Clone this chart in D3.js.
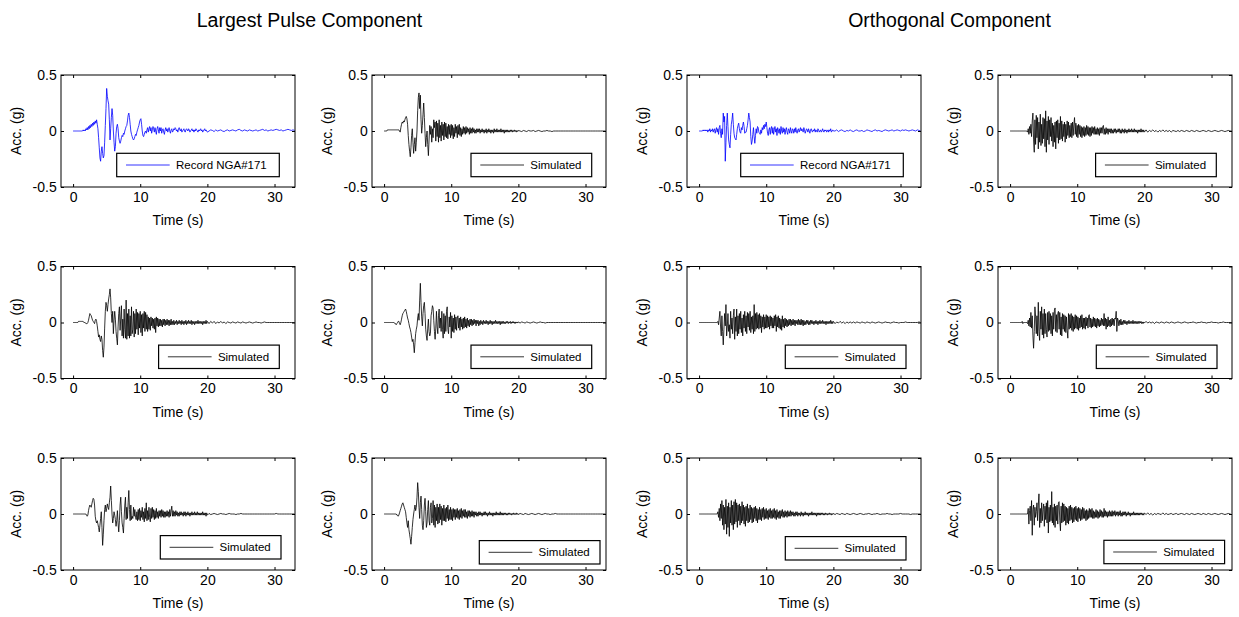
<!DOCTYPE html>
<html>
<head>
<meta charset="utf-8">
<script src="https://cdn.jsdelivr.net/npm/d3@7"></script>
<style>
  body { margin: 0; background: #fff; }
  svg { display: block; font-family: "Liberation Sans", Arial, Helvetica, sans-serif; }
</style>
</head>
<body>
<svg id="chart" width="1239" height="617"></svg>
<script>
// Ground-acceleration histories, in units of 0.01 g.
// Samples 0..200 are spaced 0.1 s (0-20 s); the rest are spaced 0.25 s (20.25-33 s).

// Largest pulse component
const pulseRecord = [
  0,0,0,0,0,0,0,0,0,0,  0,0,0,0,0,1,0,1,0,2,  1,3,1,4,2,5,3,6,4,7,
  5,8,6,9,7,10,6,2,-6,-15,  -24,-27,-18,-14,-20,-24,-22,-10,5,20,
  38,31,27,24,10,-8,2,12,20,14,  0,-10,-18,-14,-2,4,6,2,-6,-9,
  -11,-9,-6,-4,-5,-2,-3,0,2,4,  5,9,14,16,12,6,0,-3,-5,-7,
  -8,-7,-5,-3,-4,-1,1,3,5,8,  10,11,6,0,-4,-5,-3,-1,0,-2,
  1,3,-1,2,4,0,3,-2,1,4,  2,-1,3,0,-3,2,4,1,-2,3,
  0,3,-2,1,2,-1,-3,1,3,0,  2,-1,1,3,0,-2,1,2,-1,0,  2,
  1,3,2,0,1,-1,2,3,1,0,  2,-1,0,1,2,0,-1,1,2,1,  0,2,1,-1,0,1,2,0,1,-1,
  1,0,2,1,0,-1,1,0,1,2,  0,1,-1,0,1,2,0,1,0,-1,
  0,1,0.5,-0.5,1,0,0.5,1,0,-0.5,0.5,1,  0,0.5,1,0.5,0,1,1.5,0.5,0,1,0.5,0,
  1,0.5,0,0.5,1,0,0.5,1,1.5,0.5,1,0,  0.5,1,0.5,1,1.5,1,0.5,1,0,0.5,1,1.5,  1,0.5,1,0.5
];
const pulseSim1 = [
  0,0,0,0,0,1,1,1,1,1,  1,1,1,1,1,1,1,1,1,1,  1,1,1,0,-1,3,6,8,7,9,
  8,10,12,13,11,6,-4,-12,-18,-23,  -15,-4,2,-10,-20,-12,-6,-18,-10,0,
  18,30,34,20,32,10,-2,5,15,25,  12,-2,-14,-6,0,-12,-22,-8,5,-3,
  4,-10,2,-6,10,3,8,-9,9,-5,  7,-10,10,-6,5,-9,8,-4,6,-8,
  8,-5,7,-6,4,-7,6,-3,5,-6,  6,-4,5,-7,3,-5,6,-2,4,-6,
  5,-3,6,-4,3,-5,2,-3,4,-2,  3,-3,4,-2,3,-1,2,-3,3,-2,
  2,-2,3,-1,2,-2,1,-2,2,-1,  2,-1,2,-2,1,-1,2,-1,1,-2,  1,
  -1,2,-2,1,-1,2,-1,1,-2,1,  -1,1,-2,2,-1,1,-1,2,-1,1,  -1,1,-1,2,-1,1,-1,1,-2,1,
  -1,1,-1,1,-1,0.5,-1,1,-0.5,1,  -1,0.5,-0.5,1,-0.5,0.5,-1,0.5,-0.5,0.5,
  0,-0.5,0.5,0,-0.5,0.5,0,0,0.5,-0.5,0,0.5,  0,-0.5,0,0,0.5,0,0,-0.5,0,0,0,0,
  0,0,0,0,0,0,0,0,0,0,0,0,  0,0,0,0,0,0,0,0,0,0,0,0,  0,0,0,0
];
const pulseSim2 = [
  0,0,0,0,0,0,0,0,1,1,  1,1,1,1,1,1,0,0,0,-1,  -1,-1,0,2,5,8,7,6,4,2,
  1,0,-1,2,3,1,-3,-8,-13,-11,  -15,-17,-12,-15,-25,-31,-22,-5,10,18,
  15,10,16,21,25,30,22,8,0,10,  -10,2,10,3,-8,-14,-20,-4,8,14,
  -7,4,15,-12,3,-14,12,-6,-14,20,  -15,8,-12,12,-14,6,-12,14,-10,-6,
  10,-13,8,-10,12,-6,9,-11,8,-5,  10,-9,7,-12,8,-5,10,-8,9,-6,
  7,-8,5,-6,4,-7,5,-3,4,-5,  3,-6,4,-9,5,-3,4,-4,3,-3,
  3,-3,2,-4,3,-2,3,-3,2,-2,  3,-2,2,-3,2,-2,3,-2,1,-2,  2,
  -2,1,-1,2,-2,1,-1,2,-1,1,  -2,2,-1,1,-2,1,-1,2,-2,1,  -1,2,-1,1,-1,2,-2,1,-1,1,
  -2,1,-1,1,-1,2,-1,1,-1,1,  -1,1,-2,1,-1,1,-1,2,-1,1,
  -1,1,-0.5,1,-1,0.5,-0.5,1,-0.5,0.5,-1,0.5,  0,-0.5,0.5,0,-0.5,0.5,0,-0.5,0.5,0,-0.5,0,
  0.5,0,-0.5,0,0.5,0,0,-0.5,0,0.5,0,0,  0,0,0,0,0,0,0,0,0,0,0,0,  0,0,0,0
];
const pulseSim3 = [
  0,0,0,0,0,0,0,0,0,0,  0,0,0,0,0,0,-1,-1,-2,-1,  0,1,1,-1,-2,0,3,6,8,9,
  10,11,12,10,7,4,2,-1,-4,-6,  -9,-13,-17,-15,-20,-27,-18,-10,-6,-3,
  4,8,2,20,35,18,5,-3,8,15,  18,8,-6,-12,-16,-5,3,-8,-12,-10,
  6,10,15,13,2,-8,-15,-5,10,-4,  -10,6,12,-5,4,-8,10,-6,-14,8,
  -10,6,-8,10,14,-6,-10,5,-4,9,  -14,6,-8,4,-9,7,-6,5,-7,4,
  6,-5,4,-7,5,-4,3,-6,4,-5,  5,-4,3,-5,4,-3,2,-4,3,-2,
  3,-3,2,-2,3,-1,2,-3,2,-1,  2,-3,1,-2,2,-1,1,-2,2,-1,  1,
  -1,2,-1,1,-2,1,-1,2,-1,1,  -2,1,-1,1,-1,2,-1,1,-1,1,  -1,1,-2,1,-1,1,-1,1,-1,0.5,
  -1,1,-0.5,1,-1,0.5,-0.5,1,-1,0.5,  -0.5,1,-0.5,0.5,-1,0.5,-0.5,0.5,-0.5,0.5,
  -0.5,0.5,0,-0.5,0.5,0,-0.5,0,0.5,0,-0.5,0,  0.5,0,0,-0.5,0,0,0,0,0,0,0,0,
  0,0,0,0,0,0,0,0,0,0,0,0,  0,0,0,0,0,0,0,0,0,0,0,0,  0,0,0,0
];
const pulseSim4 = [
  0,0,0,0,0,0,0,0,0,0,  0,0,0,0,0,0,0,0,0,0,  -1,-2,-1,3,6,8,7,6,9,12,
  14,13,8,-2,-6,-8,-6,-9,-12,-16,  -10,-4,2,-12,-28,-18,-6,4,8,2,
  5,9,6,4,10,15,25,12,0,-8,  -4,2,-1,-5,-11,-6,3,-8,-16,-6,
  8,15,2,-8,-12,-17,-4,8,15,-5,  6,-4,10,21,4,-6,8,-5,-2,-4,
  6,-2,4,-3,-5,2,-6,4,-5,5,  -6,3,-3,6,-5,2,-7,5,-4,10,
  -6,3,-5,6,-3,-7,5,-4,6,-3,  4,-5,3,-4,5,-3,2,-4,3,-2,
  3,-3,4,-2,3,-3,2,-3,2,-2,  3,-2,2,-3,4,-2,3,7,-2,3,  -2,
  2,-2,3,-1,2,-2,1,-2,2,-1,  2,-1,1,-2,2,-1,2,-2,1,-1,  2,-1,1,-2,1,-1,2,-1,1,-1,
  2,-1,1,-1,2,-1,1,-1,1,-1,  1,-1,2,-1,1,-1,1,-2,1,-1,
  0.5,-0.5,0,0.5,0,-0.5,0,0.5,0,0,-0.5,0,  0.5,0,0,0,-0.5,0,0,0.5,0,0,0,0,
  0,0,0,0,0,0,0,0,0,0,0,0,  0,0,0,0,0.5,0,0,0,0,0,0,0,  0,0,0,0
];
const pulseSim5 = [
  0,0,0,0,0,0,0,0,0,0,  0,0,0,0,0,0,0,0,0,-1,  -1,-2,-1,1,3,5,7,9,10,8,
  6,4,2,-3,-8,-12,-6,-14,-18,-22,  -27,-20,-12,-5,0,4,8,3,6,15,
  28,20,6,-4,10,16,4,-10,-14,-6,  8,14,2,-12,-8,4,12,-6,-10,6,
  10,-8,-4,12,-10,8,-12,6,-6,9,  -9,6,-8,9,-5,7,-10,5,-6,8,
  -6,5,-7,6,-4,8,-6,4,-5,6,  -5,4,-6,5,-3,4,-5,4,-3,5,
  -4,3,-5,4,-3,5,-4,3,-2,4,  -3,4,-3,2,-4,3,-2,3,-3,2,
  -2,3,-2,2,-3,2,-1,2,-2,1,  -2,2,-1,2,-1,1,-2,1,-1,2,  -1,
  2,-1,1,-2,1,-1,2,-1,1,-1,  1,-2,1,-1,1,-1,2,-1,1,-1,  1,-1,2,-1,1,-1,1,-1,1,-0.5,
  1,-1,0.5,-1,1,-0.5,1,-0.5,0.5,-1,  0.5,-0.5,1,-0.5,0.5,-0.5,1,-0.5,0.5,-0.5,
  0.5,0,-0.5,0.5,0,-0.5,0,0.5,0,-0.5,0,0.5,  0,-0.5,0,0.5,0,0,-0.5,0,0,0.5,0,0,
  0,0,0,0,0,0,0,0,0,0,0,0,  0,0,0,0,0,0,0,0,0,0,0,0,  0,0,0,0
];

// Orthogonal component
const orthRecord = [
  0,0,0,0,0,0,1,0,1,0,  1,0,1,-1,1,0,2,-1,1,0,  2,-1,1,2,-2,1,3,-1,2,-3,
  3,5,-2,-6,2,-3,16,8,13,-27,  -10,5,16,4,-8,-12,-15,-3,6,10,
  16,6,-2,-6,-7,-8,-3,2,5,7,  2,-1,-2,3,1,5,8,4,-2,-1,
  -1,2,5,10,16,12,8,-5,-12,-9,  -3,3,-5,-11,-4,2,-2,4,3,-1,
  -2,-3,1,-2,3,1,5,2,6,4,  8,3,-2,-4,1,3,-3,2,4,-2,
  3,-3,1,4,-1,2,-4,3,1,-2,  2,-3,4,0,-2,3,-1,2,-3,1,
  3,-1,-3,2,1,-2,3,0,-2,2,  1,-2,2,-1,3,0,-2,1,2,-1,  1,
  3,0,2,1,-1,3,1,-2,0,2,  1,-1,2,0,-2,1,2,0,-1,1,  0,2,-1,1,0,-1,2,1,-1,0,
  1,-1,0,2,0,-1,1,0,1,-1,  0,1,-1,1,0,2,-1,0,1,0,
  0,1,-0.5,0.5,1,0,-0.5,0.5,0,1,0,-0.5,  0.5,1,0,0,0.5,-0.5,0,1,0.5,0,-0.5,0.5,
  1,0,0.5,0,-0.5,0.5,1,0.5,0,0.5,1,0,  0.5,1,0.5,0,1,0.5,1,0.5,0,0.5,1,0.5,  0,1,0.5,0
];
const orthSim1 = [
  0,0,0,0,0,0,0,0,0,0,  0,0,0,0,0,0,0,0,0,0,  0,0,0,0,0,0,-1,2,-3,4,
  -2,6,-5,9,16,-8,-19,10,-12,14,  -6,12,-16,8,-10,15,-13,6,-11,12,
  -7,11,-14,18,-19,9,-8,13,-12,10,  -5,12,-9,7,-14,5,-10,8,-16,9,
  -6,10,-11,7,-8,13,-7,9,-9,6,  -5,8,-10,6,-7,9,-4,8,-6,5,
  -5,7,-6,8,-4,6,12,-3,7,-5,  5,-6,6,-3,5,-5,4,-6,3,-4,
  4,-5,3,-4,5,-3,4,-4,3,-5,  3,-4,4,-2,3,-3,4,-3,2,-3,
  3,-3,2,-4,3,-2,3,-2,4,5,  -3,2,-3,3,-2,2,-3,2,-1,2,  -2,
  2,-2,1,-2,2,-1,2,-2,1,-1,  2,-1,2,-2,1,-2,2,-1,1,-2,  2,-1,1,-2,1,-1,2,-1,1,-1,
  2,-1,1,-1,2,-1,1,-1,1,-2,  1,-1,1,-1,2,-1,1,-1,1,-1,
  1,-1,0.5,-0.5,1,-0.5,0.5,-1,0.5,-0.5,1,-0.5,  0.5,-0.5,0.5,-1,0.5,0,-0.5,0.5,-0.5,0.5,0,-0.5,
  0.5,0,-0.5,0.5,0,-0.5,0.5,0,-0.5,0,0.5,0,  -0.5,0.5,0,-0.5,0,0.5,0,-0.5,0,0.5,0,-0.5,  0,0.5,0,0
];
const orthSim2 = [
  0,0,0,0,0,0,0,0,0,0,  0,0,0,0,0,0,0,0,0,0,  0,0,0,0,0,0,0,0,1,-2,
  4,10,-4,-12,6,-8,-20,-6,8,-3,  16,-12,-4,8,-8,-2,-14,10,-6,4,
  -10,6,12,-15,5,-8,12,-12,6,-10,  8,-6,10,-9,4,-12,7,-5,10,-8,
  6,-10,9,-4,8,-7,10,-9,5,-6,  6,-10,16,-8,8,-6,9,-5,7,-6,
  8,-5,6,-9,5,-4,7,-6,5,-5,  7,-5,6,-4,5,-6,6,-3,5,-5,
  4,-5,6,-3,7,-8,5,-4,6,-5,  4,-6,3,-7,6,-4,3,-5,4,-3,
  3,-4,2,-3,3,-2,3,-3,2,-2,  3,-2,2,-3,2,-1,2,-2,3,-2,  2,
  -2,3,-2,2,-3,2,-2,1,-2,2,  -1,2,-2,1,-2,2,-1,2,-1,1,  -2,1,-1,2,-1,1,-2,1,-1,2,
  -1,1,-1,2,-1,1,-1,1,-2,1,  -1,1,-1,1,-1,2,-1,1,-1,1,
  -1,0.5,-0.5,1,-0.5,0.5,-1,0.5,-0.5,0.5,-0.5,0.5,  -0.5,0.5,0,-0.5,0.5,0,-0.5,0.5,0,-0.5,0.5,0,
  -0.5,0,0.5,0,-0.5,0,0.5,0,0,-0.5,0,0.5,  0,0,-0.5,0,0,0,0.5,0,0,0,0,0,  0,0,0.5,0
];
const orthSim3 = [
  0,0,0,0,0,0,0,0,0,0,  0,0,0,0,0,0,0,0,1,-1,  0,0,0,0,0,0,-1,2,-3,4,
  -4,9,-5,6,-12,-23,-8,14,5,-10,  6,-12,18,-8,-16,10,-6,14,-11,8,
  -14,12,-10,8,-6,-13,9,-8,10,-7,  8,-10,6,-12,9,-6,11,13,-8,7,
  -9,8,10,-6,9,-11,5,-12,8,-6,  7,-8,6,-9,5,-7,-14,8,-6,7,
  -5,8,-7,6,-8,5,-6,7,-5,6,  -6,5,-7,4,-5,6,-4,7,-6,4,
  -5,4,-6,5,-3,4,-5,6,7,-4,  4,-5,3,-4,5,-3,4,-4,3,-5,
  4,-3,3,-4,2,-3,4,-2,3,-3,  8,-3,4,-6,3,-4,5,-3,2,-4,  3,
  -3,4,-2,3,-3,4,3,10,-8,4,  2,-3,2,-2,3,-2,1,-2,2,-1,  2,-1,1,-2,1,-1,2,-1,1,-1,
  1,-1,2,-1,1,-1,1,-1,1,-1,  1,-1,1,-0.5,1,-1,0.5,-1,0.5,-0.5,
  1,-0.5,0.5,-0.5,0.5,-1,0.5,0,-0.5,0.5,0,-0.5,  0.5,0,-0.5,0.5,0,-0.5,0,0.5,0,-0.5,0,0.5,
  0,-0.5,0,0,0.5,0,-0.5,0,0,0.5,0,0,  -0.5,0,0,0.5,0,0,0,-0.5,0,0,0.5,0,  0,0,0,0
];
const orthSim4 = [
  0,0,0,0,0,0,0,0,0,0,  0,0,0,0,0,0,0,0,0,0,  0,0,0,0,0,0,0,0,2,-3,
  5,-6,9,-4,12,-10,8,-14,6,-9,  13,-18,7,-12,10,-20,6,-8,12,-10,
  8,-14,11,-9,13,-7,10,-12,8,-6,  9,-10,7,-8,11,-6,8,-9,6,-11,
  7,-6,9,-8,5,-7,8,-5,6,-8,  5,-7,6,-4,7,-6,5,-8,4,-5,
  6,-5,4,-6,5,-3,6,-5,4,-4,  5,-4,3,-5,4,-3,5,-4,3,-4,
  4,-3,5,-4,3,-5,4,-3,2,-4,  3,-4,3,-2,4,-3,2,-3,3,-2,
  2,-3,3,-2,2,-2,3,-2,2,-1,  2,-2,1,-2,2,-1,2,-2,1,-1,  1,
  -2,2,-1,1,-2,1,-1,2,-1,1,  -1,1,-2,1,-1,1,-1,2,-1,1,  -1,1,-1,1,-2,1,-1,1,-1,1,
  -1,1,-0.5,1,-1,0.5,-1,1,-0.5,0.5,  -1,0.5,-0.5,1,-0.5,0.5,-1,0.5,-0.5,0.5,
  -0.5,0.5,0,-0.5,0.5,0,-0.5,0.5,0,-0.5,0,0.5,  0,-0.5,0,0.5,0,-0.5,0,0,0.5,0,-0.5,0,
  0,0.5,0,-0.5,0,0,0,0.5,0,0,-0.5,0,  0,0,0,0.5,0,0,0,0,0,-0.5,0,0,  0,0,0,0
];
const orthSim5 = [
  0,0,0,0,0,0,0,0,0,0,  0,0,0,0,0,0,0,0,0,0,  0,0,0,0,0,0,0,5,-9,3,
  7,-6,12,-19,4,8,-10,6,-3,2,  10,-6,8,18,-12,5,-8,10,-6,4,
  9,-11,7,-5,10,-8,12,-17,6,-7,  8,-6,20,-8,6,-10,9,-12,7,-6,
  8,-9,10,11,-6,-15,7,-8,10,-7,  9,-6,7,-10,6,-8,5,-9,7,-6,
  8,-5,6,-8,5,-7,6,-5,7,-6,  5,-7,6,-4,5,-6,4,-5,6,-4,
  5,-4,3,-6,4,-5,3,-4,5,-3,  4,-3,5,-4,3,-4,2,-3,4,-3,
  3,-4,2,-3,4,-2,3,-3,2,-3,  5,-2,3,-2,2,-3,2,-2,3,-2,  2,
  -2,3,-2,2,-1,3,-2,2,-1,2,  -2,2,-1,3,-2,1,-2,2,-1,2,  -1,2,-2,1,-1,2,-1,1,-2,1,
  -1,1,-1,2,-1,1,-1,1,-1,1,  -1,1,-1,1,-0.5,1,-1,0.5,-1,1,
  -0.5,1,-0.5,0.5,-1,0.5,-0.5,0.5,0,-0.5,1,-0.5,  0.5,-0.5,0,0.5,-0.5,0,0.5,-0.5,0,0.5,0,-0.5,
  0.5,0,-0.5,0.5,0,-0.5,0,0.5,0,-0.5,0.5,0,  -0.5,0.5,0,-0.5,0,0.5,0,-0.5,0,0.5,0,-0.5,  0,0.5,0,-0.5
];

const columnTitles = ["Largest Pulse Component", "Orthogonal Component"];
const xTickValues = [0, 10, 20, 30];
const yTickValues = [-0.5, 0, 0.5];
const xLabel = "Time (s)";
const yLabel = "Acc. (g)";
const recordName = "Record NGA#171";
const simulatedName = "Simulated";

// Grid of panels: [row][column]
const panelGrid = [
  [pulseRecord, pulseSim1, orthRecord, orthSim1],
  [pulseSim2,   pulseSim3, orthSim2,   orthSim3],
  [pulseSim4,   pulseSim5, orthSim4,   orthSim5]
];
const recordPanels = new Set([pulseRecord, orthRecord]);

// ---- layout ----
const colLeft = [61, 372, 687, 998];
const rowTop = [75, 266.5, 458];
const plotW = 234, plotH = 112;
// legend box offsets from the plot's right / bottom edges
const legendOffset = [
  [[15.7, 10.3], [14.3, 10.3], [17.7, 10.3], [15.7, 10.3]],
  [[15.7, 10.0], [14.3, 10.0], [15.0, 10.0], [15.0, 10.0]],
  [[14.0, 11.0], [6.0, 6.0],   [15.0, 10.0], [7.4, 6.3]]
];

const svg = d3.select("#chart");

function sampleTime(i) { return i <= 200 ? i * 0.1 : 20 + (i - 200) * 0.25; }

const x = d3.scaleLinear().domain([-1.8, 33.05]).range([0, plotW]);
const y = d3.scaleLinear().domain([-0.5, 0.5]).range([plotH, 0]);

const line = d3.line()
  .x((d, i) => x(sampleTime(i)))
  .y(d => y(d / 100));

svg.append("defs").append("clipPath").attr("id", "plotClip")
  .append("rect").attr("width", plotW).attr("height", plotH);

// column titles
const titleX = [309.5, 949.5];
columnTitles.forEach((t, k) => {
  svg.append("text").attr("x", titleX[k]).attr("y", 27)
    .attr("text-anchor", "middle").attr("font-size", 19.5).attr("fill", "#000").text(t);
});

panelGrid.forEach((row, r) => {
  row.forEach((series, c) => {
    const g = svg.append("g").attr("transform", `translate(${colLeft[c]},${rowTop[r]})`);
    const isRecord = recordPanels.has(series);
    const colour = isRecord ? "#0000ff" : "#000";

    g.append("path").datum(series)
      .attr("clip-path", "url(#plotClip)")
      .attr("fill", "none").attr("stroke", colour)
      .attr("stroke-width", 0.8).attr("stroke-linejoin", "round")
      .attr("d", line);

    // frame
    g.append("rect").attr("width", plotW).attr("height", plotH)
      .attr("fill", "none").attr("stroke", "#000").attr("stroke-width", 1);

    // axes (ticks pointing inward)
    const bottom = g.append("g").attr("transform", `translate(0,${plotH})`)
      .call(d3.axisBottom(x).tickValues(xTickValues).tickFormat(d => String(d))
        .tickSize(-3).tickSizeOuter(0).tickPadding(4.7));
    const top = g.append("g")
      .call(d3.axisTop(x).tickValues(xTickValues).tickFormat("").tickSize(-3).tickSizeOuter(0));
    const left = g.append("g")
      .call(d3.axisLeft(y).tickValues(yTickValues).tickFormat(d => String(d))
        .tickSize(-3).tickSizeOuter(0).tickPadding(4.3));
    const right = g.append("g").attr("transform", `translate(${plotW},0)`)
      .call(d3.axisRight(y).tickValues(yTickValues).tickFormat("").tickSize(-3).tickSizeOuter(0));
    [bottom, top, left, right].forEach(a => {
      a.select(".domain").remove();
      a.selectAll("line").attr("stroke", "#000");
      a.selectAll("text").attr("font-size", 14).attr("fill", "#000")
        .attr("font-family", "'Liberation Sans', Arial, sans-serif");
    });

    // axis titles
    g.append("text").attr("x", plotW / 2).attr("y", plotH + 38)
      .attr("text-anchor", "middle").attr("font-size", 14).attr("fill", "#000").text(xLabel);
    g.append("text").attr("transform", `translate(-40,${plotH / 2}) rotate(-90)`)
      .attr("text-anchor", "middle").attr("font-size", 14).attr("fill", "#000").text(yLabel);

    // legend
    const lw = isRecord ? 162.6 : 120.7, lh = 23.4;
    const [offR, offB] = legendOffset[r][c];
    const lg = g.append("g").attr("transform", `translate(${plotW - offR - lw},${plotH - offB - lh})`);
    lg.append("rect").attr("width", lw).attr("height", lh)
      .attr("fill", "#fff").attr("stroke", "#000").attr("stroke-width", 1.2);
    lg.append("line").attr("x1", 9.3).attr("x2", 53).attr("y1", lh / 2).attr("y2", lh / 2)
      .attr("stroke", colour).attr("stroke-width", 0.8);
    lg.append("text").attr("x", 59.3).attr("y", lh / 2).attr("dy", "0.35em")
      .attr("font-size", 11.5).attr("fill", "#000").text(isRecord ? recordName : simulatedName);
  });
});
</script>
</body>
</html>
